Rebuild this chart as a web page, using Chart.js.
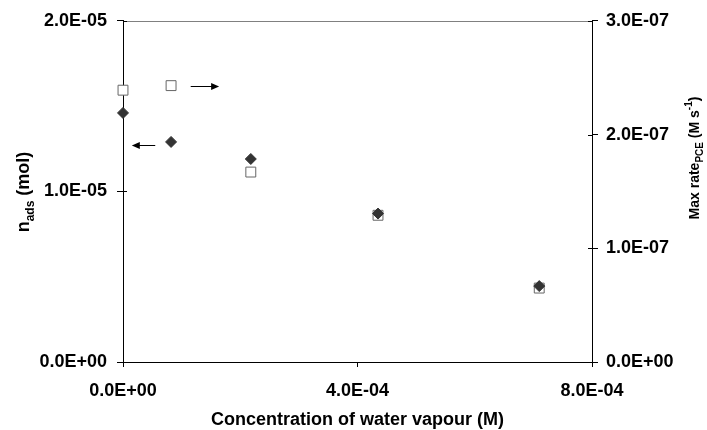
<!DOCTYPE html>
<html>
<head>
<title>Water vapour chart</title>
<script src="https://cdn.jsdelivr.net/npm/chart.js"></script>
<style>
  body { margin: 0; background: #fff; }
</style>
</head>
<body>
<canvas id="chart" width="707" height="430"></canvas>
<script>
// data
const waterConc = [0, 8.2e-5, 2.18e-4, 4.35e-4, 7.1e-4];        // M
const nAds      = [1.46e-5, 1.29e-5, 1.19e-5, 0.87e-5, 0.445e-5]; // mol, left axis
const maxRate   = [2.39e-7, 2.43e-7, 1.67e-7, 1.29e-7, 0.65e-7];  // M s-1, right axis

const xTicks  = [0, 4e-4, 8e-4];
const yTicks  = [0, 1e-5, 2e-5];
const y1Ticks = [0, 1e-7, 2e-7, 3e-7];

// arrows pointing at the axis each series belongs to (data units)
const leftArrow  = { x0: 5.5e-5, x1: 1.5e-5, y: 1.273e-5, axis: 'y' };
const rightArrow = { x0: 1.155e-4, x1: 1.64e-4, y: 2.43e-7, axis: 'y1' };

const FONT = '"Liberation Sans", Arial, sans-serif';

function sci(v) {
  if (v === 0) return '0.0E+00';
  let e = Math.floor(Math.log10(Math.abs(v)) + 1e-9);
  let m = v / Math.pow(10, e);
  let s = e < 0 ? '-' : '+';
  return m.toFixed(1) + 'E' + s + String(Math.abs(e)).padStart(2, '0');
}

// draw text pieces (normal / sub / sup) centered at cx,cy with rotation
function richText(ctx, parts, cx, cy, rot, size, small) {
  ctx.save();
  ctx.translate(cx, cy);
  ctx.rotate(rot);
  ctx.textBaseline = 'middle';
  ctx.textAlign = 'left';
  ctx.fillStyle = '#000';
  let total = 0;
  parts.forEach(p => {
    ctx.font = 'bold ' + (p.k ? small : size) + 'px ' + FONT;
    p.w = ctx.measureText(p.t).width;
    total += p.w;
  });
  let x = -total / 2;
  parts.forEach(p => {
    ctx.font = 'bold ' + (p.k ? small : size) + 'px ' + FONT;
    let dy = p.k === 'sub' ? size * 0.35 : (p.k === 'sup' ? -size * 0.42 : 0);
    ctx.fillText(p.t, x, dy);
    x += p.w;
  });
  ctx.restore();
}

function arrow(ctx, chart, a) {
  const xs = chart.scales.x, ys = chart.scales[a.axis];
  const x0 = xs.getPixelForValue(a.x0), x1 = xs.getPixelForValue(a.x1);
  const y = Math.round(ys.getPixelForValue(a.y)) + 0.5;
  const dir = x1 > x0 ? 1 : -1;
  ctx.save();
  ctx.strokeStyle = '#000';
  ctx.fillStyle = '#000';
  ctx.lineWidth = 1;
  ctx.beginPath();
  ctx.moveTo(x0, y);
  ctx.lineTo(x1 - dir * 6, y);
  ctx.stroke();
  ctx.beginPath();
  ctx.moveTo(x1, y);
  ctx.lineTo(x1 - dir * 8, y - 3.5);
  ctx.lineTo(x1 - dir * 8, y + 3.5);
  ctx.closePath();
  ctx.fill();
  ctx.restore();
}

const extras = {
  id: 'extras',
  beforeDatasetsDraw(chart) {
    const ctx = chart.ctx, a = chart.chartArea;
    ctx.save();
    // top line of the plot area
    ctx.strokeStyle = '#808080';
    ctx.lineWidth = 1;
    ctx.beginPath();
    ctx.moveTo(a.left, Math.round(a.top) + 0.5);
    ctx.lineTo(a.right, Math.round(a.top) + 0.5);
    ctx.stroke();
    // inner half of the crossing tick marks on both value axes
    ctx.strokeStyle = '#000';
    ctx.beginPath();
    yTicks.forEach(v => {
      const y = Math.round(chart.scales.y.getPixelForValue(v)) + 0.5;
      ctx.moveTo(a.left, y); ctx.lineTo(a.left + 4, y);
    });
    y1Ticks.forEach(v => {
      const y = Math.round(chart.scales.y1.getPixelForValue(v)) + 0.5;
      ctx.moveTo(a.right, y); ctx.lineTo(a.right - 4, y);
    });
    ctx.stroke();
    ctx.restore();
  },
  afterDraw(chart) {
    const ctx = chart.ctx, a = chart.chartArea;
    arrow(ctx, chart, leftArrow);
    arrow(ctx, chart, rightArrow);
    richText(ctx, [{ t: 'Concentration of water vapour (M)' }], (a.left + a.right) / 2, 420, 0, 18, 12);
    richText(ctx, [{ t: 'n' }, { t: 'ads', k: 'sub' }, { t: ' (mol)' }], 24, 192, -Math.PI / 2, 18, 12);
    richText(ctx, [{ t: 'Max rate' }, { t: 'PCE', k: 'sub' }, { t: ' (M s' }, { t: '-1', k: 'sup' }, { t: ')' }], 695, 158, -Math.PI / 2, 14, 10);
  }
};

const tickFont = { family: FONT, size: 18, weight: 'bold' };

new Chart(document.getElementById('chart'), {
  type: 'scatter',
  data: {
    datasets: [
      {
        label: 'n ads',
        data: waterConc.map((x, i) => ({ x: x, y: nAds[i] })),
        yAxisID: 'y',
        clip: false,
        pointStyle: 'rectRot',
        pointRadius: 5.5,
        backgroundColor: '#333333',
        borderColor: '#333333',
        borderWidth: 1
      },
      {
        label: 'Max rate PCE',
        data: waterConc.map((x, i) => ({ x: x, y: maxRate[i] })),
        yAxisID: 'y1',
        clip: false,
        pointStyle: 'rect',
        pointRadius: 7,
        backgroundColor: '#ffffff',
        borderColor: '#666666',
        borderWidth: 1
      }
    ]
  },
  options: {
    responsive: false,
    animation: false,
    layout: { padding: { top: 17, left: 0, right: 0, bottom: 0 } },
    plugins: { legend: { display: false }, tooltip: { enabled: false } },
    scales: {
      x: {
        type: 'linear', min: 0, max: 8e-4,
        afterBuildTicks: s => { s.ticks = xTicks.map(v => ({ value: v })); },
        afterFit: s => { s.height = 68; },
        grid: { drawOnChartArea: false, drawTicks: true, tickLength: 5, color: '#000' },
        border: { display: true, color: '#000', width: 1 },
        ticks: { font: tickFont, color: '#000', padding: 13, maxRotation: 0, callback: v => sci(v) }
      },
      y: {
        type: 'linear', position: 'left', min: 0, max: 2e-5,
        afterBuildTicks: s => { s.ticks = yTicks.map(v => ({ value: v })); },
        afterFit: s => { s.width = 123; },
        grid: { drawOnChartArea: false, drawTicks: true, tickLength: 6, color: '#000' },
        border: { display: true, color: '#000', width: 1 },
        ticks: { font: tickFont, color: '#000', padding: 10, callback: v => sci(v) }
      },
      y1: {
        type: 'linear', position: 'right', min: 0, max: 3e-7,
        afterBuildTicks: s => { s.ticks = y1Ticks.map(v => ({ value: v })); },
        afterFit: s => { s.width = 115; },
        grid: { drawOnChartArea: false, drawTicks: true, tickLength: 6, color: '#000' },
        border: { display: true, color: '#000', width: 1 },
        ticks: { font: tickFont, color: '#000', padding: 8, callback: v => sci(v) }
      }
    }
  },
  plugins: [extras]
});
</script>
</body>
</html>
